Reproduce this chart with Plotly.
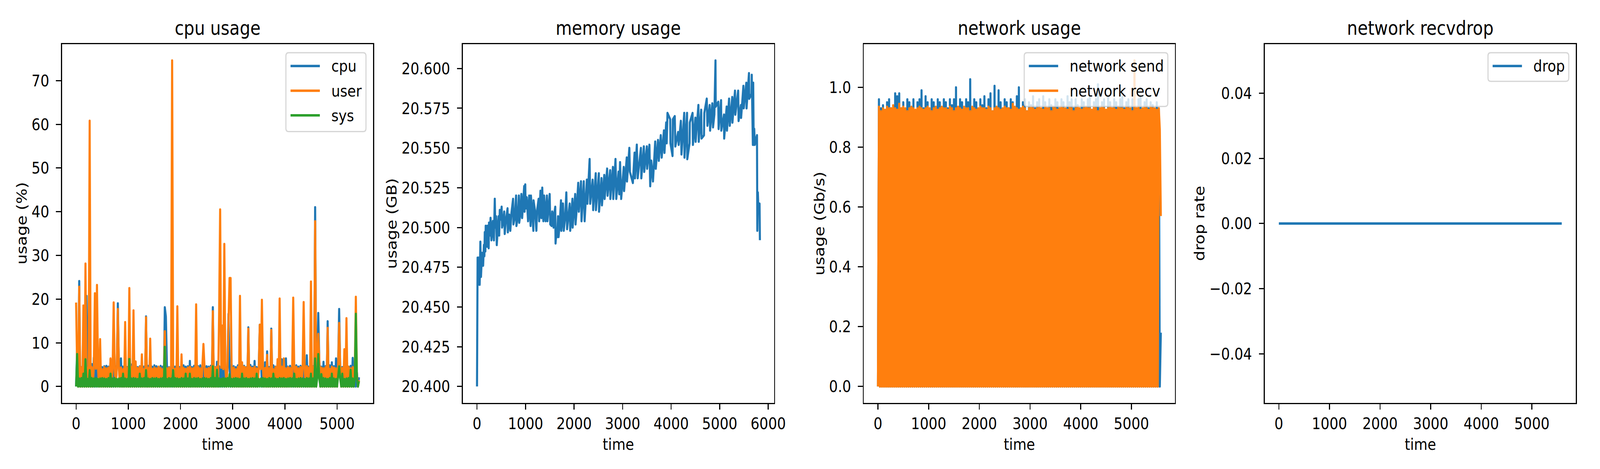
import plotly.graph_objects as go

FONT = 'DejaVu Sans'
PT = 300 / 72  # matplotlib points -> pixels at 300 dpi

BLUE = '#1f77b4'
ORANGE = '#ff7f0e'
GREEN = '#2ca02c'

FLOOR = 0.0  # every dense series drops back to zero between samples

# ---------------- cpu usage ----------------
CPU_TIME = list(range(0, 5421, 20))

# band tops (every other sample)
CPU_PEAKS = [
    8.7, 4.6, 4.4, 4.8, 4.5, 4.7, 4.4, 5.1, 6.6, 4.5, 4.6, 4.9, 4.4, 4.6, 4.7, 4.5, 6.2,
    4.5, 4.8, 4.4, 4.6, 6.4, 4.5, 4.7, 4.4, 4.6, 5.0, 4.5, 5.6, 4.4, 4.6, 4.8, 4.5, 4.6,
    4.7, 4.4, 4.5, 4.8, 4.6, 4.4, 4.7, 4.5, 4.6, 4.9, 4.4, 4.6, 5.2, 4.5, 4.7, 4.4, 4.6,
    4.8, 4.5, 4.6, 5.8, 4.4, 4.7, 4.5, 4.6, 4.8, 4.4, 4.9, 4.6, 4.5, 4.7, 5.0, 4.4, 5.6,
    4.6, 4.5, 4.8, 4.4, 4.7, 4.5, 5.0, 4.6, 4.4, 4.8, 6.6, 4.5, 4.7, 4.4, 4.6, 4.9, 4.5,
    5.8, 4.4, 4.6, 4.8, 4.5, 5.5, 4.7, 4.4, 4.6, 4.8, 4.5, 4.7, 4.4, 6.2, 4.6, 6.4, 4.5,
    4.7, 4.4, 4.6, 4.8, 4.5, 4.7, 4.4, 4.6, 7.1, 4.5, 4.8, 4.6, 4.4, 4.7, 5.7, 4.5, 5.6,
    4.6, 4.4, 4.8, 5.5, 4.6, 6.4, 4.5, 4.7, 4.4, 4.6, 4.8, 4.5, 4.7, 6.5, 4.4, 3.2, 2.1,
]
USER_PEAKS = [
    4.4, 4.1, 4.3, 3.9, 4.5, 4.2, 4.0, 4.4, 4.6, 4.1, 4.3, 4.2, 3.9, 4.4, 4.1, 4.3, 4.5,
    4.2, 4.0, 4.4, 4.1, 4.3, 3.9, 4.5, 4.2, 4.1, 4.4, 4.0, 4.3, 4.2, 4.5, 4.1, 3.9, 4.3,
    4.2, 4.4, 4.0, 4.3, 4.1, 4.5, 4.2, 3.9, 4.4, 4.1, 4.3, 4.2, 4.6, 4.0, 4.3, 4.1, 4.4,
    4.2, 4.0, 4.3, 4.5, 4.1, 4.2, 3.9, 4.4, 4.1, 4.3, 4.6, 4.0, 4.2, 4.4, 4.1, 4.3, 4.5,
    4.1, 4.3, 4.0, 4.4, 4.2, 4.6, 4.1, 4.3, 3.9, 4.4, 4.2, 4.0, 4.5, 4.3, 4.1, 4.4, 4.2,
    4.5, 4.1, 4.3, 4.0, 4.4, 4.2, 4.6, 4.1, 4.3, 3.9, 4.4, 4.2, 4.0, 4.5, 4.3, 4.1, 4.4,
    4.2, 4.0, 4.3, 4.5, 4.1, 4.4, 4.2, 4.0, 4.6, 4.3, 4.1, 4.4, 4.2, 3.9, 4.5, 4.3, 4.1,
    4.4, 4.2, 4.0, 4.5, 4.3, 4.1, 4.4, 4.6, 4.2, 4.0, 4.3, 4.5, 4.1, 4.4, 3.8, 2.6, 1.4,
]
SYS_PEAKS = [
    2.9, 1.8, 1.9, 2.9, 1.8, 1.7, 3.7, 1.9, 1.8, 1.9, 1.7, 1.8, 1.9, 1.8, 1.7, 1.9, 2.9,
    1.8, 1.9, 1.7, 1.8, 1.9, 2.9, 1.8, 1.7, 1.9, 1.8, 1.9, 1.8, 1.7, 2.9, 1.8, 1.9, 3.7,
    1.8, 1.7, 1.9, 1.8, 1.9, 1.7, 1.8, 1.9, 1.8, 1.7, 1.9, 1.8, 3.7, 1.9, 1.8, 1.7, 1.9,
    1.8, 2.9, 1.8, 2.9, 1.7, 1.9, 1.8, 1.9, 1.7, 1.8, 1.9, 1.8, 1.7, 1.9, 1.8, 1.9, 3.8,
    1.8, 1.7, 1.9, 1.8, 1.9, 2.8, 1.7, 1.8, 1.9, 1.8, 1.7, 2.9, 1.8, 1.9, 1.7, 1.8, 1.9,
    1.8, 2.9, 1.7, 1.8, 1.9, 1.8, 1.7, 1.9, 1.8, 2.9, 1.8, 1.7, 1.9, 1.8, 1.9, 1.7, 1.8,
    1.9, 1.8, 2.9, 1.7, 1.8, 1.9, 1.8, 1.7, 1.9, 1.8, 2.9, 1.8, 1.7, 1.9, 1.8, 2.8, 1.9,
    1.8, 1.7, 1.9, 2.9, 1.8, 1.7, 1.9, 1.8, 2.9, 1.7, 1.8, 1.9, 3.8, 1.8, 1.7, 1.9, 1.2,
]

# isolated spikes
CPU_SPIKE_T = [60, 200, 800, 1340, 1700, 1720, 2180, 2620, 2920, 3300, 3520, 3660, 3740,
               4580, 4640, 4820, 5040]
CPU_SPIKE_V = [24.1, 20.7, 19.0, 16.0, 18.1, 16.0, 5.8, 18.1, 16.6, 13.5, 14.1, 8.0, 13.2,
               41.0, 16.8, 14.9, 17.7]
USER_SPIKE_T = [0, 60, 140, 180, 260, 360, 400, 460, 660, 720, 800, 940, 1020, 1100, 1140,
                1260, 1340, 1420, 1700, 1840, 1940, 2020, 2300, 2440, 2620, 2740, 2760,
                2800, 2840, 2920, 2940, 2960, 3140, 3180, 3300, 3520, 3560, 3660, 3740,
                3860, 3900, 3980, 4160, 4360, 4500, 4580, 4640, 4820, 5040, 5140, 5180, 5360]
USER_SPIKE_V = [19.2, 22.8, 18.5, 28.1, 60.8, 21.3, 23.2, 10.8, 6.4, 19.2, 17.7, 14.7, 22.5,
                17.4, 5.7, 7.3, 15.8, 10.9, 12.6, 74.6, 18.3, 7.3, 18.75, 9.7, 17.2, 16.4,
                40.5, 13.9, 32.6, 14.8, 24.8, 24.8, 20.7, 5.5, 13.2, 14.1, 19.8, 7.2, 12.9,
                6.2, 20.1, 6.4, 20.3, 19.3, 24.0, 37.8, 12.0, 13.4, 14.5, 8.5, 15.6, 20.5]
SYS_SPIKE_T = [20, 180, 1020, 1700, 2620, 4580, 4640, 5040, 5360]
SYS_SPIKE_V = [7.4, 6.2, 6.25, 9.05, 4.6, 6.4, 7.4, 4.6, 16.6]

# ---------------- memory usage ----------------
MEM_TIME = [
    0, 12, 22, 34, 55, 69, 82, 103, 126, 142,
    152, 160, 172, 179, 206, 213, 240, 247, 263, 279,
    297, 327, 348, 366, 377, 393, 407, 444, 457, 469,
    490, 507, 516, 537, 560, 571, 594, 629, 635, 665,
    686, 709, 743, 750, 777, 805, 812, 841, 862, 870,
    891, 914, 930, 972, 980, 994, 1001, 1024, 1052, 1075,
    1104, 1111, 1161, 1165, 1193, 1223, 1235, 1269, 1280, 1307,
    1326, 1344, 1367, 1383, 1413, 1440, 1451, 1497, 1509, 1536,
    1550, 1577, 1588, 1612, 1618, 1634, 1650, 1669, 1680, 1703,
    1730, 1737, 1771, 1787, 1815, 1840, 1856, 1886, 1909, 1920,
    1966, 1970, 2023, 2030, 2053, 2085, 2098, 2142, 2153, 2199,
    2205, 2217, 2263, 2274, 2320, 2331, 2382, 2393, 2446, 2450,
    2510, 2514, 2565, 2574, 2622, 2629, 2681, 2690, 2743, 2747,
    2800, 2807, 2853, 2869, 2915, 2930, 2947, 2970, 3023, 3030,
    3085, 3090, 3138, 3150, 3211, 3246, 3255, 3292, 3310, 3377,
    3385, 3437, 3445, 3499, 3505, 3552, 3568, 3590, 3625, 3671,
    3683, 3729, 3745, 3786, 3805, 3851, 3862, 3897, 3908, 3924,
    3980, 3985, 4028, 4035, 4074, 4086, 4143, 4155, 4200, 4212,
    4269, 4274, 4327, 4332, 4379, 4384, 4441, 4448, 4499, 4504,
    4561, 4568, 4619, 4626, 4676, 4683, 4733, 4747, 4793, 4802,
    4848, 4862, 4890, 4913, 4918, 4970, 4977, 5028, 5033, 5088,
    5092, 5143, 5150, 5193, 5207, 5258, 5262, 5315, 5322, 5380,
    5389, 5437, 5441, 5488, 5495, 5548, 5553, 5603, 5608, 5655,
    5660, 5683, 5690, 5700, 5711, 5722, 5768, 5775, 5786, 5800,
    5821, 5828,
]
MEM_VALUE = [
    20.400, 20.481, 20.464, 20.481, 20.464, 20.491, 20.469, 20.484, 20.476, 20.489,
    20.482, 20.497, 20.485, 20.501, 20.488, 20.501, 20.487, 20.503, 20.495, 20.506,
    20.492, 20.504, 20.492, 20.518, 20.500, 20.507, 20.489, 20.507, 20.495, 20.511,
    20.505, 20.513, 20.500, 20.503, 20.510, 20.496, 20.504, 20.512, 20.497, 20.508,
    20.498, 20.509, 20.518, 20.502, 20.506, 20.520, 20.501, 20.507, 20.520, 20.503,
    20.508, 20.521, 20.506, 20.526, 20.510, 20.527, 20.512, 20.519, 20.504, 20.520,
    20.501, 20.520, 20.498, 20.517, 20.511, 20.498, 20.510, 20.518, 20.504, 20.523,
    20.506, 20.525, 20.504, 20.520, 20.504, 20.520, 20.504, 20.521, 20.502, 20.501,
    20.510, 20.500, 20.508, 20.513, 20.490, 20.496, 20.494, 20.507, 20.494, 20.502,
    20.517, 20.498, 20.515, 20.498, 20.506, 20.522, 20.499, 20.510, 20.515, 20.498,
    20.518, 20.500, 20.521, 20.502, 20.511, 20.528, 20.510, 20.529, 20.504, 20.529,
    20.513, 20.504, 20.530, 20.515, 20.543, 20.515, 20.530, 20.511, 20.534, 20.511,
    20.534, 20.510, 20.531, 20.514, 20.533, 20.518, 20.537, 20.520, 20.536, 20.518,
    20.538, 20.518, 20.543, 20.518, 20.535, 20.521, 20.541, 20.518, 20.538, 20.523,
    20.544, 20.529, 20.550, 20.535, 20.528, 20.547, 20.531, 20.552, 20.531, 20.550,
    20.531, 20.551, 20.535, 20.551, 20.537, 20.552, 20.526, 20.542, 20.529, 20.554,
    20.537, 20.555, 20.542, 20.558, 20.544, 20.561, 20.547, 20.566, 20.553, 20.572,
    20.568, 20.553, 20.545, 20.568, 20.570, 20.551, 20.560, 20.552, 20.567, 20.546,
    20.572, 20.544, 20.572, 20.543, 20.553, 20.566, 20.572, 20.552, 20.569, 20.554,
    20.577, 20.554, 20.574, 20.556, 20.558, 20.572, 20.581, 20.564, 20.577, 20.561,
    20.578, 20.563, 20.571, 20.605, 20.576, 20.579, 20.562, 20.580, 20.561, 20.571,
    20.556, 20.576, 20.561, 20.581, 20.564, 20.582, 20.566, 20.586, 20.571, 20.586,
    20.567, 20.577, 20.569, 20.589, 20.575, 20.591, 20.575, 20.597, 20.581, 20.584,
    20.596, 20.552, 20.591, 20.552, 20.562, 20.552, 20.558, 20.498, 20.522, 20.509,
    20.515, 20.492,
]

# ---------------- network usage ----------------
NET_TIME = list(range(0, 5581, 20))
SEND_PEAKS = [
    0.96, 0.93, 0.94, 0.92, 0.95, 0.96, 0.93, 0.92, 0.98, 0.97, 0.98, 0.93, 0.95, 0.92, 0.96, 0.95, 0.93, 0.96, 0.92, 0.95,
    0.96, 0.99, 0.93, 0.97, 0.95, 0.92, 0.96, 0.95, 0.93, 0.96, 0.95, 0.92, 0.96, 0.95, 0.93, 0.96, 0.94, 0.96, 1.0, 0.93,
    0.96, 0.95, 0.92, 0.96, 0.95, 1.027, 0.93, 0.96, 0.95, 0.92, 0.96, 0.94, 0.97, 0.93, 0.96, 0.98, 0.92, 1.005, 0.93, 0.99,
    0.95, 0.92, 0.96, 0.95, 0.93, 0.96, 0.95, 0.92, 0.97, 1.0, 0.93, 0.95, 0.96, 0.92, 0.95, 0.94, 0.97, 0.93, 0.95, 0.96,
    0.92, 0.97, 0.95, 0.93, 0.96, 0.94, 0.92, 0.96, 0.95, 0.93, 0.96, 0.95, 0.92, 0.97, 0.95, 0.96, 0.93, 0.96, 0.94, 0.92,
    0.96, 0.95, 0.93, 0.96, 0.97, 0.92, 0.95, 0.96, 1.01, 0.93, 0.95, 0.96, 0.92, 0.97, 0.95, 0.93, 0.96, 0.95, 0.92, 0.96,
    0.97, 0.93, 0.95, 0.96, 0.92, 0.96, 0.95, 0.93, 0.96, 0.97, 0.92, 0.95, 0.96, 0.93, 0.95, 0.94, 0.92, 0.95, 0.93, 0.18,
]
RECV_PEAKS = [
    0.935, 0.92, 0.93, 0.925, 0.935, 0.93, 0.93, 0.94, 0.93, 0.925, 0.945, 0.93, 0.935, 0.93, 0.92, 0.93, 0.935, 0.93, 0.925, 0.93,
    0.935, 0.93, 0.925, 0.93, 0.935, 0.93, 0.92, 0.93, 0.935, 0.925, 0.93, 0.935, 0.93, 0.93, 0.925, 0.935, 0.93, 0.92, 0.93, 0.935,
    0.93, 0.925, 0.935, 0.93, 0.93, 0.92, 0.935, 0.93, 0.925, 0.93, 0.935, 0.93, 0.93, 0.925, 0.935, 0.93, 0.92, 0.93, 0.935, 0.93,
    0.925, 0.93, 0.935, 0.93, 0.93, 0.925, 0.945, 0.935, 0.93, 0.925, 0.93, 0.935, 0.93, 0.92, 0.93, 0.935, 0.93, 0.925, 0.93, 0.935,
    0.93, 0.925, 0.935, 0.93, 0.93, 0.92, 0.935, 0.93, 0.925, 0.93, 0.935, 0.93, 0.93, 0.925, 0.935, 0.93, 0.92, 0.93, 0.935, 0.93,
    0.925, 0.93, 0.935, 0.93, 0.93, 0.925, 0.935, 0.93, 0.92, 0.93, 0.935, 0.93, 0.925, 0.93, 0.935, 0.93, 0.93, 0.925, 0.935, 0.93,
    0.93, 0.925, 0.935, 0.93, 0.93, 0.92, 1.09, 0.93, 0.935, 0.925, 0.93, 0.935, 0.93, 0.925, 0.935, 0.93, 0.93, 0.925, 0.93, 0.57,
]
SEND_SPIKE_T = []
SEND_SPIKE_V = []
RECV_SPIKE_T = [5560]
RECV_SPIKE_V = [0.86]

# ---------------- network recvdrop ----------------
DROP_TIME = [0, 1000, 2000, 3000, 4000, 5000, 5590]
DROP_VALUE = [0, 0, 0, 0, 0, 0, 0]

# ---------------- geometry (pixels of the 4800x1200 canvas) ----------------
W, H = 4800, 1200
AX_LEFT, AX_WIDTH, AX_STEP = 187.2, 940.4, 1211.6
AX_TOP, AX_BOTTOM = 113.2, 1030.5
YLABEL_X = [65.5, 1183.7, 2477.0, 3625.4]
TITLE_Y, XLABEL_Y = 71.6, 1136.0

TITLES = ['cpu usage', 'memory usage', 'network usage', 'network recvdrop']
YLABELS = ['usage (%)', 'usage (GB)', 'usage (Gb/s)', 'drop rate']

# legends: (panel, labels, colours, box width in px)
LEGENDS = [
    (0, ['cpu', 'user', 'sys'], [BLUE, ORANGE, GREEN], 242),
    (2, ['network send', 'network recv'], [BLUE, ORANGE], 434),
    (3, ['drop'], [BLUE], 244),
]


def dense_series(times, peaks, spike_t, spike_v):
    """Alternate floor / band-top samples, then put the isolated spikes in."""
    values = [peaks[i // 2] if i % 2 else FLOOR for i in range(len(times))]
    spikes = dict(zip(spike_t, spike_v))
    return [spikes.get(t, v) for t, v in zip(times, values)]


def padded(values):
    lo, hi = min(values), max(values)
    pad = 0.05 * (hi - lo)
    return [lo - pad, hi + pad]


def px(x, y):
    """canvas pixels -> paper coordinates"""
    return x / W, 1 - y / H


def line(x, y, name, colour, axis):
    return go.Scatter(x=x, y=y, mode='lines', name=name, showlegend=False,
                      line={'color': colour, 'width': 1.5 * PT},
                      xaxis='x' + axis, yaxis='y' + axis)


def rounded_box(x0, y0, x1, y1, r):
    steps = [('M', x0 + r, y0), ('L', x1 - r, y0), ('Q', x1, y0, x1, y0 + r),
             ('L', x1, y1 - r), ('Q', x1, y1, x1 - r, y1), ('L', x0 + r, y1),
             ('Q', x0, y1, x0, y1 - r), ('L', x0, y0 + r), ('Q', x0, y0, x0 + r, y0)]
    out = []
    for cmd, *coords in steps:
        pairs = []
        for i in range(0, len(coords), 2):
            a, b = px(coords[i], coords[i + 1])
            pairs.append('%.6f,%.6f' % (a, b))
        out.append(cmd + ' '.join(pairs))
    return ' '.join(out) + ' Z'


cpu = dense_series(CPU_TIME, CPU_PEAKS, CPU_SPIKE_T, CPU_SPIKE_V)
user = dense_series(CPU_TIME, USER_PEAKS, USER_SPIKE_T, USER_SPIKE_V)
sys_ = dense_series(CPU_TIME, SYS_PEAKS, SYS_SPIKE_T, SYS_SPIKE_V)
send = dense_series(NET_TIME, SEND_PEAKS, SEND_SPIKE_T, SEND_SPIKE_V)
recv = dense_series(NET_TIME, RECV_PEAKS, RECV_SPIKE_T, RECV_SPIKE_V)

fig = go.Figure(data=[
    line(CPU_TIME, cpu, 'cpu', BLUE, ''),
    line(CPU_TIME, user, 'user', ORANGE, ''),
    line(CPU_TIME, sys_, 'sys', GREEN, ''),
    line(MEM_TIME, MEM_VALUE, 'memory', BLUE, '2'),
    line(NET_TIME, send, 'network send', BLUE, '3'),
    line(NET_TIME, recv, 'network recv', ORANGE, '3'),
    line(DROP_TIME, DROP_VALUE, 'drop', BLUE, '4'),
])

tick_font = {'family': FONT, 'size': 10 * PT, 'color': 'black'}
axis_style = dict(showline=True, mirror=True, linecolor='black', linewidth=0.8 * PT,
                  ticks='outside', ticklen=3.5 * PT, tickwidth=0.8 * PT, tickcolor='black',
                  showgrid=False, zeroline=False, tickfont=tick_font)

x_ranges = [[-0.05 * t[-1], 1.05 * t[-1]] for t in (CPU_TIME, MEM_TIME, NET_TIME, DROP_TIME)]
y_ranges = [padded(cpu + user + sys_), padded(MEM_VALUE), padded(send + recv), [-0.055, 0.055]]
y_ticks = [dict(tick0=0, dtick=10), dict(tick0=20.4, dtick=0.025, tickformat='.3f'),
           dict(tick0=0, dtick=0.2, tickformat='.1f'), dict(tick0=0, dtick=0.02, tickformat='.2f')]

layout = dict(width=W, height=H, margin=dict(l=0, r=0, t=0, b=0),
              paper_bgcolor='white', plot_bgcolor='white', showlegend=False,
              font={'family': FONT, 'color': 'black'})
annotations = []
shapes = []
small = {'family': FONT, 'size': 10 * PT, 'color': 'black'}

for i in range(4):
    suffix = '' if i == 0 else str(i + 1)
    left = AX_LEFT + i * AX_STEP
    right = left + AX_WIDTH
    layout['xaxis' + suffix] = dict(axis_style, domain=[left / W, right / W],
                                    range=x_ranges[i], tick0=0, dtick=1000,
                                    anchor='y' + suffix, ticklabelstandoff=0)
    layout['yaxis' + suffix] = dict(axis_style, domain=[1 - AX_BOTTOM / H, 1 - AX_TOP / H],
                                    range=y_ranges[i], anchor='x' + suffix,
                                    ticklabelstandoff=12, **y_ticks[i])
    centre = (left + right) / 2 / W
    annotations.append(dict(text=TITLES[i], x=centre, y=1 - TITLE_Y / H,
                            xref='paper', yref='paper', showarrow=False,
                            xanchor='center', yanchor='middle',
                            font={'family': FONT, 'size': 12 * PT, 'color': 'black'}))
    annotations.append(dict(text='time', x=centre, y=1 - XLABEL_Y / H,
                            xref='paper', yref='paper', showarrow=False,
                            xanchor='center', yanchor='middle', font=small))
    annotations.append(dict(text=YLABELS[i], x=YLABEL_X[i] / W,
                            y=1 - (AX_TOP + AX_BOTTOM) / 2 / H,
                            xref='paper', yref='paper', textangle=-90, showarrow=False,
                            xanchor='center', yanchor='middle', font=small))

# matplotlib-style legend boxes in the upper right corner of their panel
ROW_FIRST, ROW_STEP = 34.0, 63.2
for panel, labels, colours, box_w in LEGENDS:
    box_r = AX_LEFT + panel * AX_STEP + AX_WIDTH - 21.6
    box_l = box_r - box_w
    box_t = AX_TOP + 21.6
    box_b = box_t + 9 + 64.3 * len(labels)
    shapes.append(dict(type='path', xref='paper', yref='paper',
                       path=rounded_box(box_l, box_t, box_r, box_b, 8.3),
                       fillcolor='rgba(255,255,255,0.8)',
                       line={'color': 'rgba(204,204,204,0.8)', 'width': 0.8 * PT}))
    for j, (label, colour) in enumerate(zip(labels, colours)):
        row_y = box_t + ROW_FIRST + j * ROW_STEP
        x0, y0 = px(box_l + 14, row_y)
        x1, _ = px(box_l + 102.6, row_y)
        shapes.append(dict(type='line', xref='paper', yref='paper', x0=x0, x1=x1, y0=y0, y1=y0,
                           line={'color': colour, 'width': 1.5 * PT}))
        tx, ty = px(box_l + 135, row_y)
        annotations.append(dict(text=label, x=tx, y=ty, xref='paper', yref='paper',
                                showarrow=False, xanchor='left', yanchor='middle', font=small))

layout['annotations'] = annotations
layout['shapes'] = shapes
fig.update_layout(layout)

# stretch the fixed 4800x1200 canvas over the whole browser window,
# and use matplotlib-like round line joins
FIT_TO_WINDOW = """
var gd = document.getElementById('{plot_id}');
document.documentElement.style.overflow = 'hidden';
document.body.style.margin = '0';
document.body.style.overflow = 'hidden';
var vw = document.documentElement.clientWidth || window.innerWidth;
var vh = document.documentElement.clientHeight || window.innerHeight;
var sx = vw / %d, sy = vh / %d;
if (!(sx > 0) || !isFinite(sx)) { sx = 1; }
if (!(sy > 0) || !isFinite(sy)) { sy = sx; }
var box = gd.parentElement;
box.style.width = vw + 'px';
box.style.height = vh + 'px';
box.style.overflow = 'hidden';
gd.style.transformOrigin = '0 0';
gd.style.transform = 'scale(' + sx + ',' + sy + ')';
var css = document.createElement('style');
css.textContent = '.js-line { stroke-linejoin: round; }';
document.head.appendChild(css);
""" % (W, H)

fig.write_html('out.html', post_script=FIT_TO_WINDOW, config={'displayModeBar': False})
